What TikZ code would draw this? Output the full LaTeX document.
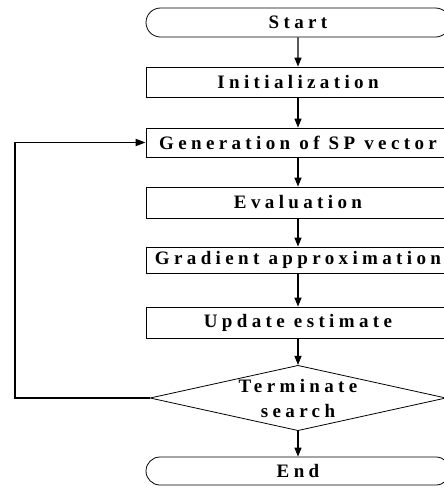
\documentclass[tikz,border=0pt]{standalone}
\usepackage{fontspec}
\setmainfont{Liberation Serif}
\newfontfamily\lblfont[LetterSpace=23]{Liberation Serif}
\usetikzlibrary{shapes.geometric,shapes.misc,arrows.meta}
\begin{document}
\begin{tikzpicture}[x=1pt,y=-1pt,
  lbl/.style={font=\lblfont\bfseries\fontsize{19}{25}\selectfont},
  box/.style={lbl, draw, line width=0.8pt, minimum width=304pt, inner sep=0pt},
  term/.style={lbl, draw, rounded rectangle, line width=0.8pt, minimum width=304pt, inner sep=0pt},
  dec/.style={lbl, draw, diamond, aspect=4.4, line width=0.8pt, minimum width=296pt, minimum height=59pt, inner sep=0pt, align=center},
  arr/.style={line width=1.2pt, -{Triangle[length=9pt,width=7pt]}},
  looparr/.style={line width=1.8pt, -{Triangle[length=10pt,width=7pt]}}]
\useasboundingbox (0,0) rectangle (444,488);
\clip (0,0) rectangle (444,488);
\node[term, minimum height=29pt] (start) at (298,22.5) {Start};
\node[box, minimum height=30pt] (init) at (298,82) {Initialization};
\node[box, minimum height=29pt] (gen) at (298,142.5) {Generation of SP vector};
\node[box, minimum height=31pt] (eval) at (298,202.5) {Evaluation};
\node[box, minimum height=26pt] (grad) at (298,260) {Gradient approximation};
\node[box, minimum height=31pt] (upd) at (298,322.5) {Update estimate};
\node[dec] (term) at (298,398) {Terminate\\search};
\node[term, minimum height=28pt] (end) at (298,471) {End};
\coordinate (lp) at (15,398);
\draw[arr] (start) -- (init);
\draw[arr] (init) -- (gen);
\draw[arr] (gen) -- (eval);
\draw[arr] (eval) -- (grad);
\draw[arr] (grad) -- (upd);
\draw[arr] (upd) -- (term);
\draw[arr] (term) -- (end);
\draw[looparr] (term.west) -- (lp) |- (gen.west);
\end{tikzpicture}
\end{document}
